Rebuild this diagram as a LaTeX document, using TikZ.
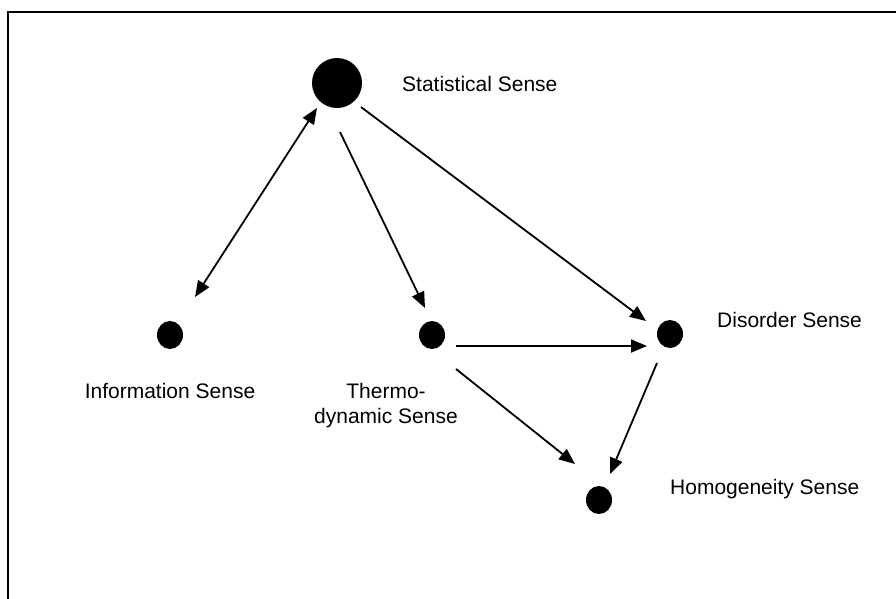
\documentclass[tikz,border=0pt]{standalone}
\usepackage{fontspec}
\setmainfont{Liberation Sans}
\usetikzlibrary{arrows.meta,shapes.geometric}
\begin{document}
\begin{tikzpicture}[x=1pt,y=-1pt,
  dot/.style={ellipse,fill=black,inner sep=0pt,minimum width=26pt,minimum height=28pt},
  bigdot/.style={circle,fill=black,inner sep=0pt,minimum size=50pt},
  lbl/.style={inner sep=0pt,font=\fontsize{21}{25}\selectfont},
  conn/.style={line width=1.8pt,-{Triangle[length=16pt,width=13pt]}},
  dconn/.style={line width=1.8pt,{Triangle[length=16pt,width=13pt]}-{Triangle[length=16pt,width=13pt]}}]
\useasboundingbox (0,0) rectangle (896,598);
\clip (0,0) rectangle (896,598);
\draw[line width=2pt] (8,12) rectangle (910,615);
% nodes
\node[bigdot] (stat) at (337,83) {};
\node[dot] (info) at (170,335) {};
\node[dot] (thermo) at (432,335) {};
\node[dot] (dis) at (670,334) {};
\node[dot] (homo) at (599,500) {};
% labels
\node[lbl,anchor=base west] (statL) at (402,91) {Statistical Sense};
\node[lbl,anchor=base] (infoL) at (170,398) {Information Sense};
\node[lbl,anchor=base,align=center] (thermoL) at (386,423) {Thermo-\\dynamic Sense};
\node[lbl,anchor=base west] (disL) at (717,327) {Disorder Sense};
\node[lbl,anchor=base west] (homoL) at (670,494) {Homogeneity Sense};
% connector end points
\coordinate (si) at (317,108);
\coordinate (is) at (195,297);
\coordinate (st) at (340,132);
\coordinate (ts) at (425,308);
\coordinate (sd) at (361,107);
\coordinate (ds) at (646,321);
\coordinate (td) at (456,346);
\coordinate (dt) at (647,346);
\coordinate (th) at (456,369);
\coordinate (ht) at (575,464);
\coordinate (dh) at (657,363);
\coordinate (hd) at (610,474);
% connectors
\draw[dconn] (is) -- (si);
\draw[conn] (st) -- (ts);
\draw[conn] (sd) -- (ds);
\draw[conn] (td) -- (dt);
\draw[conn] (th) -- (ht);
\draw[conn] (dh) -- (hd);
\end{tikzpicture}
\end{document}
